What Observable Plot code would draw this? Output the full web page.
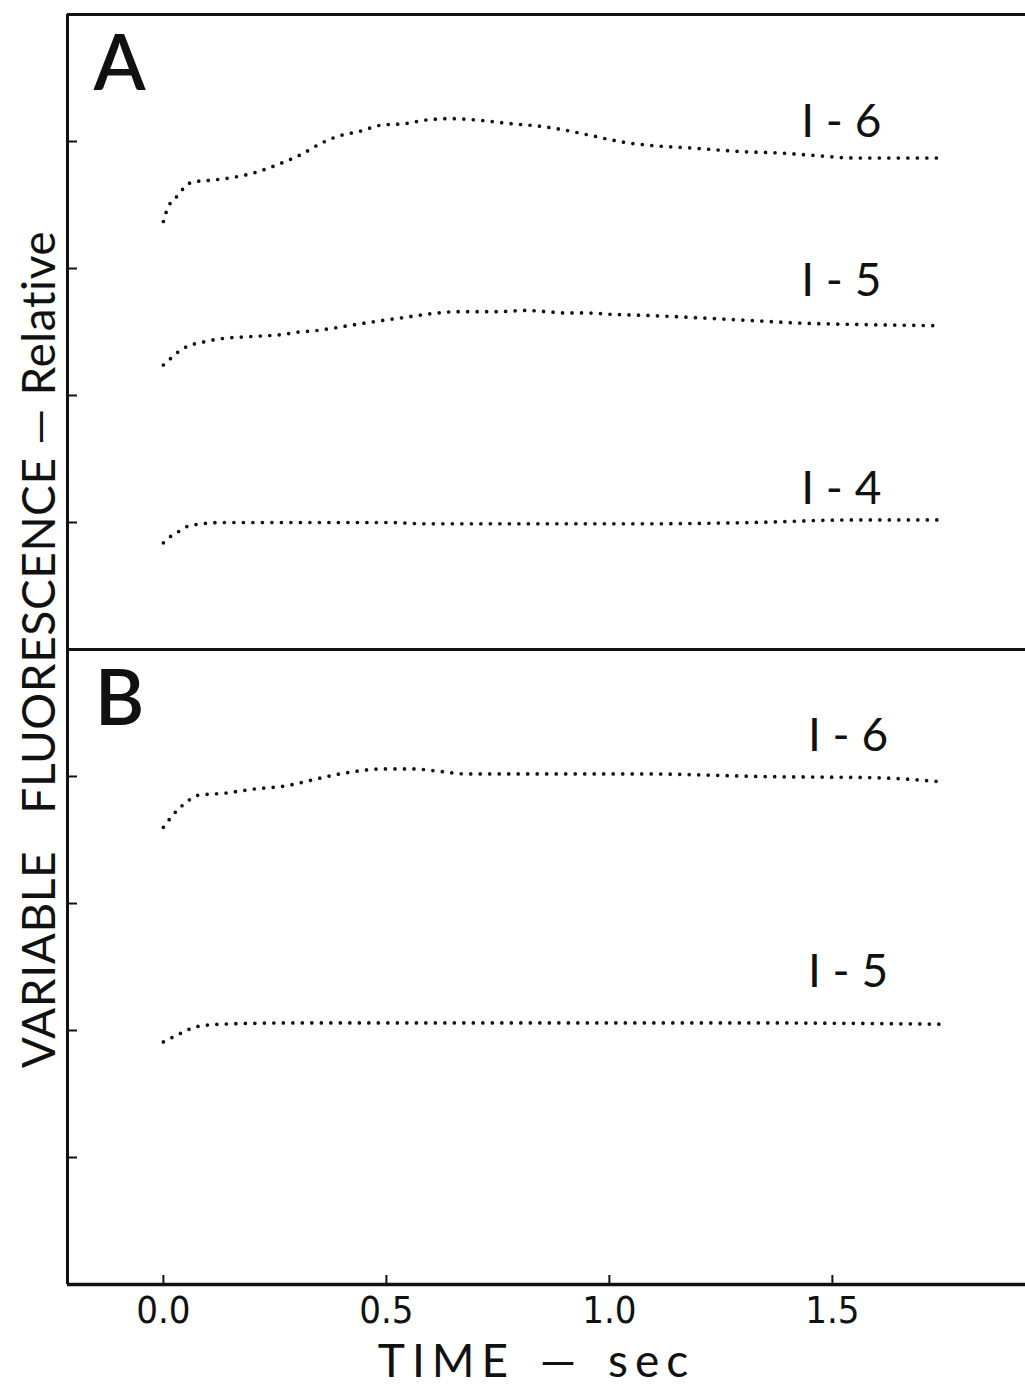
<!DOCTYPE html>
<html>
<head>
<meta charset="utf-8">
<script src="https://cdn.jsdelivr.net/npm/d3@7"></script>
<script src="https://cdn.jsdelivr.net/npm/@observablehq/plot@0.6"></script>
<style>
  html, body { margin: 0; padding: 0; background: #fff; }
  #chart { width: 1025px; height: 1389px; }
</style>
</head>
<body>
<div id="chart"></div>
<script>
// ---- Data (time in sec, fluorescence in tick units within each panel) ----
const panels = ["A", "B"];

const a6Time = [0, 0.002, 0.007, 0.013, 0.022, 0.031, 0.04, 0.05, 0.065, 0.12, 0.16, 0.21, 0.25, 0.31, 0.35, 0.39, 0.44, 0.49, 0.54, 0.59, 0.645, 0.70, 0.73, 0.78, 0.845, 0.90, 0.955, 1.04, 1.09, 1.18, 1.30, 1.38, 1.46, 1.55, 1.75];
const a6Value = [3.37, 3.40, 3.45, 3.50, 3.54, 3.57, 3.61, 3.65, 3.68, 3.70, 3.72, 3.76, 3.81, 3.90, 3.98, 4.04, 4.08, 4.13, 4.14, 4.17, 4.18, 4.17, 4.16, 4.14, 4.12, 4.09, 4.05, 3.99, 3.97, 3.95, 3.92, 3.91, 3.89, 3.87, 3.87];

const a5Time = [0, 0.013, 0.022, 0.036, 0.045, 0.061, 0.076, 0.10, 0.135, 0.173, 0.225, 0.267, 0.303, 0.34, 0.38, 0.415, 0.45, 0.49, 0.53, 0.57, 0.615, 0.66, 0.70, 0.75, 0.81, 0.86, 0.90, 0.95, 1.0, 1.09, 1.21, 1.32, 1.43, 1.55, 1.73];
const a5Value = [2.24, 2.28, 2.31, 2.35, 2.37, 2.40, 2.41, 2.43, 2.45, 2.46, 2.47, 2.48, 2.50, 2.51, 2.53, 2.55, 2.57, 2.59, 2.61, 2.63, 2.65, 2.66, 2.66, 2.66, 2.67, 2.66, 2.65, 2.65, 2.64, 2.63, 2.61, 2.59, 2.57, 2.56, 2.55];

const a4Time = [0, 0.02, 0.04, 0.054, 0.067, 0.088, 0.128, 0.247, 0.40, 0.51, 0.584, 0.66, 0.77, 0.84, 1.09, 1.32, 1.54, 1.74];
const a4Value = [0.84, 0.90, 0.94, 0.97, 0.98, 0.99, 1.00, 1.00, 1.00, 1.00, 0.99, 0.99, 0.99, 0.99, 0.99, 1.00, 1.02, 1.02];

const b6Time = [0, 0.03, 0.056, 0.074, 0.14, 0.20, 0.28, 0.33, 0.38, 0.43, 0.49, 0.56, 0.62, 0.68, 0.84, 1.09, 1.34, 1.60, 1.74];
const b6Value = [3.60, 3.73, 3.81, 3.85, 3.87, 3.90, 3.93, 3.97, 4.01, 4.04, 4.06, 4.06, 4.04, 4.02, 4.02, 4.02, 4.00, 3.99, 3.96];

const b5Time = [0, 0.04, 0.074, 0.13, 0.3, 0.6, 1.0, 1.3, 1.74];
const b5Value = [1.91, 1.98, 2.03, 2.05, 2.06, 2.06, 2.06, 2.06, 2.05];

const seriesNames = ["I - 6", "I - 5", "I - 4", "I - 6", "I - 5"];
const seriesPanels = ["A", "A", "A", "B", "B"];
const labelTime = [1.52, 1.52, 1.52, 1.535, 1.535];
const labelValue = [4.15, 2.90, 1.26, 4.32, 2.46];

const xTicks = [0, 0.5, 1.0, 1.5];
const xTickLabels = ["0.0", "0.5", "1.0", "1.5"];
const yTicks = [1, 2, 3, 4, 6, 7, 8, 9];   // panel A ticks sit 5 units above panel B
const frameLines = [0, 5, 10];              // bottom, divider, top
const xTitle = "TIME \u2014 sec";
const yTitle = "VARIABLE\u00a0\u00a0\u00a0FLUORESCENCE \u2014 Relative";

// ---- Build table ----
const panelOffset = {A: 5, B: 0};
const seriesTimes = [a6Time, a5Time, a4Time, b6Time, b5Time];
const seriesValues = [a6Value, a5Value, a4Value, b6Value, b5Value];
const rows = [];
seriesTimes.forEach((ts, s) => {
  ts.forEach((t, i) => rows.push({
    key: seriesPanels[s] + seriesNames[s],
    t,
    y: seriesValues[s][i] + panelOffset[seriesPanels[s]]
  }));
});
const labels = seriesNames.map((name, i) => ({
  name, t: labelTime[i], y: labelValue[i] + panelOffset[seriesPanels[i]]
}));
const panelTops = panels.map(p => ({p, y: panelOffset[p] + 5}));

const xDomain = [-0.215, 1.933];
const ink = "#111";

const chart = Plot.plot({
  width: 1025,
  height: 1389,
  marginLeft: 67,
  marginRight: 0,
  marginTop: 14,
  marginBottom: 105,
  x: {domain: xDomain},
  y: {domain: [0, 10]},
  style: {background: "#fff", color: ink, fontFamily: "Lato, 'DejaVu Sans', sans-serif"},
  marks: [
    // frame
    Plot.ruleY(frameLines.slice(1), {stroke: ink, strokeWidth: 3}),
    Plot.ruleY(frameLines.slice(0, 1), {stroke: ink, strokeWidth: 3.6}),
    Plot.ruleX([xDomain[0]], {stroke: ink, strokeWidth: 3}),
    // inward ticks
    Plot.axisY({ticks: yTicks, tickSize: -10, tickFormat: () => "", label: null, stroke: ink, strokeWidth: 2}),
    Plot.axisX({ticks: xTicks, tickSize: -9, tickFormat: () => "", label: null, stroke: ink, strokeWidth: 2}),
    Plot.axisX({ticks: xTicks, tickSize: 0, tickPadding: 12, label: null,
      tickFormat: d => xTickLabels[xTicks.indexOf(d)],
      fontSize: 38, fontFamily: "'Liberation Sans Narrow', 'DejaVu Sans Condensed', sans-serif"}),
    // dotted curves
    Plot.line(rows, {x: "t", y: "y", z: "key", curve: "monotone-x",
      stroke: ink, strokeWidth: 3.7, strokeLinecap: "round", strokeDasharray: "0 9.5"}),
    // series labels
    Plot.text(labels, {x: "t", y: "y", text: "name", fontSize: 46, fill: ink,
      textAnchor: "middle", lineAnchor: "middle"}),
    // panel letters
    Plot.text(panelTops, {y: "y", text: "p", frameAnchor: "left", dx: 52, dy: 51,
      fontSize: 76, fontWeight: 600, fill: ink, textAnchor: "middle", lineAnchor: "middle"}),
    // axis titles
    Plot.text([xTitle], {frameAnchor: "bottom", dx: -10, dy: 78, fontSize: 46, fill: ink,
      textAnchor: "middle", lineAnchor: "middle"}),
    Plot.text([yTitle], {frameAnchor: "left", dx: -27, dy: 0, rotate: -90, fontSize: 46, fill: ink,
      textAnchor: "middle", lineAnchor: "middle"})
  ]
});

// letter spacing for the spaced-out axis titles
d3.select(chart).selectAll("text").each(function () {
  const s = this.textContent;
  if (s === xTitle) d3.select(this).style("letter-spacing", "7px").style("word-spacing", "6px");
  if (s === yTitle) d3.select(this).style("letter-spacing", "0.6px");
});

document.getElementById("chart").appendChild(chart);
</script>
</body>
</html>
